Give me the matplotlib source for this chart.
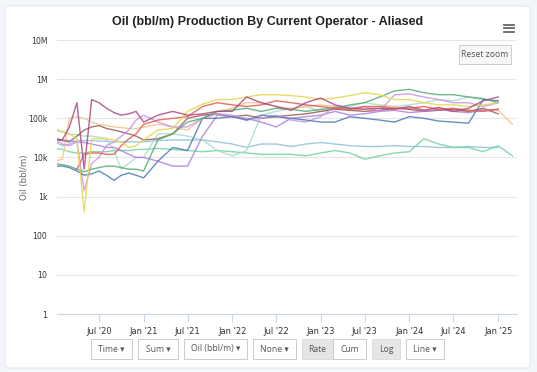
import numpy as np
import pandas as pd
import matplotlib
matplotlib.use("Agg")
import matplotlib.pyplot as plt
import matplotlib.dates as mdates
from matplotlib.patches import FancyBboxPatch, Rectangle

nan = np.nan
k = 1e3

# monthly samples through 2020, then every two months up to Mar 2025
dates = pd.date_range("2020-01-01", periods=12, freq="MS").append(
    pd.date_range("2021-01-01", periods=26, freq="2MS"))

# values in thousands of bbl/m
magenta = [30, 28, 60, 250, 5, 300, 250, 180, 140, 120, 130, 150,
           80, 120, 150, 120, 130, 150, 150, 350, 250, 200, 160, 250, 330, 220,
           180, 170, 180, 170, 200, 160, 190, 150, 180, 280, 350, nan]
yellow = [55, 45, 40, 30, 0.4, 30, 30, 30, 28, 25, 18, 20,
          28, 50, 55, 150, 230, 300, 300, 350, 400, 400, 380, 350, 300, 330,
          380, 450, 400, 300, 300, 250, 220, 220, 200, 220, 250, nan]
red = [nan, nan, nan, 5, 12, 13, 13, 12, 12, 20, 30, 40,
       70, 90, 100, 110, 200, 250, 220, 200, 220, 280, 250, 220, 200, 180,
       170, 200, 200, 180, 180, 200, 170, 180, 160, 150, 170, nan]
peach = [8, 9, 100, 110, 100, 80, 70, 65, 60, 58, 55, 55,
         60, 70, 60, 50, 100, 150, 180, 250, 250, 200, 180, 200, 220, 200,
         160, 180, 200, 200, 170, 160, 170, 150, 150, 170, 160, 70]
lavender = [28, 22, 20, 25, 1.4, 7, 10, 20, 25, 35, 50, 90,
            120, 80, 60, 60, 100, 130, 120, 90, 100, 120, 90, 80, 110, 200,
            180, 200, 150, 400, 420, 350, 300, 250, 250, 200, 250, nan]
purple = [30, 28, 27, 25, 24, 22, 20, 18, 18, 15, 12, 10,
          10, 8, 6, 6, 35, 120, 110, 100, 80, 60, 100, 110, 120, 150,
          120, 130, 150, 160, 140, 150, 170, 150, 140, 160, 170, nan]
lightblue = [25, 20, 22, 27, 27, 27, 26, 26, 25, 25, 25, 25,
             25, 27, 28, 28, 28, 25, 22, 18, 22, 22, 19, 22, 24, 22,
             20, 19, 19, 20, 19, 19, 18, 18, 19, 18, 18, nan]
mint = [17, 16, 14, 13, 13, 14, 14, 14, 15, 15, 15, 16,
        16, 17, 16, 15, 14, 15, 14, 13, 12, 12, 12, 11, 13, 15,
        13, 9, 11, 13, 14, 30, 22, 18, 18, 14, 20, 11]
blue = [6, 6, 5.5, 4.5, 3.5, 3.8, 4.5, 3.5, 2.6, 3.5, 4, 3.5,
        3, 8, 18, 15, 100, 100, 110, 90, 120, 110, 100, 90, 80, 80,
        110, 100, 90, 80, 110, 100, 85, 80, 75, 300, 280, nan]
green = [7, 6.5, 6, 5, 4.3, 5, 5.5, 6, 6, 5.5, 5, 5,
         4.5, 28, 40, 80, 100, 150, 160, 180, 150, 180, 170, 150, 170, 180,
         220, 250, 350, 500, 550, 450, 400, 400, 350, 320, 250, nan]
teal = [50, 45, 40, 38, 35, 35, 33, 30, 15, 5, 7, 10,
        10, 40, 40, 35, 28, 15, 11, 15, 120, 150, 180, 200, 150, 180,
        200, 250, 220, 200, 220, 250, 300, 280, 350, 300, 280, nan]
brown = [28, 27, 25, 35, 50, 60, 65, 55, 50, 45, 40, 35,
         28, 30, 40, 100, 120, 130, 110, 120, 100, 110, 120, 130, 150, 170,
         160, 150, 160, 180, 170, 150, 160, 170, 150, 180, 130, nan]

series = [
    (lightblue, "#8fc0dc"), (mint, "#6fd3a0"), (teal, "#a6dccb"), (peach, "#f3c38a"),
    (brown, "#9a5d50"), (purple, "#b07fdc"), (lavender, "#c994e6"), (blue, "#4f79b4"),
    (green, "#55aa75"), (red, "#e35a52"), (yellow, "#e6d54a"), (magenta, "#aa4683"),
]

tick_dates = pd.date_range("2020-07-01", "2025-01-01", freq="6MS")
tick_labels = [d.strftime("%b '%y") for d in tick_dates]
ytick_vals = [1, 10, 100, 1e3, 1e4, 1e5, 1e6, 1e7]
ytick_labels = ["1", "10", "100", "1k", "10k", "100k", "1M", "10M"]

W, H = 537, 372
fig = plt.figure(figsize=(W / 100, H / 100), dpi=100)
fig.patch.set_facecolor("#f2f5fa")

card = FancyBboxPatch((5 / W, 4 / H), 525 / W, 362 / H, boxstyle="round,pad=0,rounding_size=0.008",
                      transform=fig.transFigure, facecolor="white", edgecolor="#e4e8ee", lw=0.8,
                      zorder=-10)
fig.patches.append(card)

ax = fig.add_axes([57 / W, 1 - 314 / H, 460 / W, 274 / H])
ax.set_facecolor("none")
for vals, col in series:
    v = np.array(vals, dtype=float) * k
    ax.plot(dates, v, color=col, lw=1.0, alpha=0.85)

ax.set_yscale("log")
ax.set_ylim(1, 1e7)
ax.set_yticks(ytick_vals)
ax.set_yticklabels(ytick_labels)
ax.yaxis.set_minor_locator(matplotlib.ticker.NullLocator())
x0 = mdates.date2num(pd.Timestamp("2020-01-10"))
x1 = mdates.date2num(pd.Timestamp("2025-03-20"))
ax.set_xlim(x0, x1)
ax.set_xticks(tick_dates)
ax.set_xticklabels(tick_labels)
ax.grid(axis="y", color="#e6e6e6", lw=0.8)
ax.set_axisbelow(True)
for s in ["top", "right", "left"]:
    ax.spines[s].set_visible(False)
ax.spines["bottom"].set_color("#ccd6eb")
ax.tick_params(axis="x", colors="#ccd6eb", length=6, width=0.8, labelcolor="#333333",
               labelsize=6.0, pad=3)
ax.tick_params(axis="y", length=0, labelcolor="#333333", labelsize=5.6, pad=7)

fig.text(25 / W, 1 - 177 / H, "Oil (bbl/m)", rotation=90, ha="center", va="center",
         color="#666666", fontsize=6.2)

fig.text(268 / W, 1 - 22 / H, "Oil (bbl/m) Production By Current Operator - Aliased",
         ha="center", va="center", fontsize=9, fontweight="bold", color="#222222",
         family="Liberation Sans")

# hamburger menu
for dy in (-3.5, 0, 3.5):
    fig.add_artist(plt.Line2D([504 / W, 514 / W], [1 - (28 + dy) / H] * 2,
                              color="#666666", lw=1.3, transform=fig.transFigure))

def button(x, y, w, h, label, fill="white", edge="#cccccc", arrow=False):
    fig.patches.append(Rectangle((x / W, 1 - (y + h) / H), w / W, h / H, transform=fig.transFigure,
                                 facecolor=fill, edgecolor=edge, lw=0.7))
    txt = label + (" \u25be" if arrow else "")
    fig.text((x + w / 2) / W, 1 - (y + h / 2) / H, txt, ha="center", va="center",
             fontsize=6.2, color="#555555", family=["Open Sans", "DejaVu Sans"])

button(459, 45, 52, 19, "Reset zoom", fill="#f7f7f7", edge="#cccccc")
button(91, 339, 41, 20, "Time", arrow=True)
button(138, 339, 40, 20, "Sum", arrow=True)
button(184, 339, 63, 20, "Oil (bbl/m)", arrow=True)
button(253, 339, 43, 20, "None", arrow=True)
button(302, 339, 31, 20, "Rate", fill="#e6e6e6", edge="#dddddd")
button(333, 339, 33, 20, "Cum")
button(372, 339, 28, 20, "Log", fill="#e6e6e6", edge="#dddddd")
button(406, 339, 38, 20, "Line", arrow=True)

fig.savefig("out.png", dpi=100)
